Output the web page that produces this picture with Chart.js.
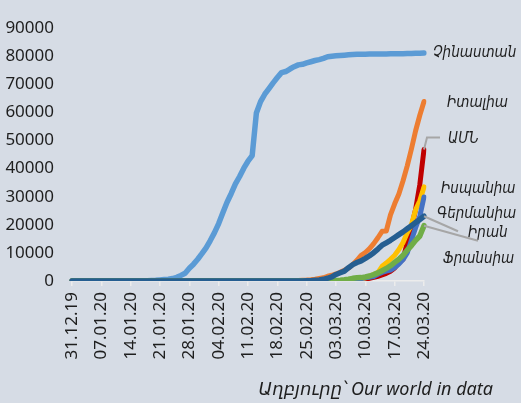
<!DOCTYPE html>
<html lang="hy">
<head>
<meta charset="utf-8">
<title>COVID-19</title>
<script src="https://cdn.jsdelivr.net/npm/chart.js@4/dist/chart.umd.min.js"></script>
<style>
  html, body { margin: 0; padding: 0; background: #d6dce5; }
  #wrap { width: 521px; height: 403px; }
</style>
</head>
<body>
<div id="wrap"><canvas id="cases" width="521" height="403"></canvas></div>
<script>
// Daily dates, 31.12.19 - 24.03.20
const dates = [
  "31.12.19",
  "01.01.20","02.01.20","03.01.20","04.01.20","05.01.20","06.01.20","07.01.20","08.01.20","09.01.20","10.01.20",
  "11.01.20","12.01.20","13.01.20","14.01.20","15.01.20","16.01.20","17.01.20","18.01.20","19.01.20","20.01.20",
  "21.01.20","22.01.20","23.01.20","24.01.20","25.01.20","26.01.20","27.01.20","28.01.20","29.01.20","30.01.20","31.01.20",
  "01.02.20","02.02.20","03.02.20","04.02.20","05.02.20","06.02.20","07.02.20","08.02.20","09.02.20","10.02.20",
  "11.02.20","12.02.20","13.02.20","14.02.20","15.02.20","16.02.20","17.02.20","18.02.20","19.02.20","20.02.20",
  "21.02.20","22.02.20","23.02.20","24.02.20","25.02.20","26.02.20","27.02.20","28.02.20","29.02.20",
  "01.03.20","02.03.20","03.03.20","04.03.20","05.03.20","06.03.20","07.03.20","08.03.20","09.03.20","10.03.20",
  "11.03.20","12.03.20","13.03.20","14.03.20","15.03.20","16.03.20","17.03.20","18.03.20","19.03.20","20.03.20",
  "21.03.20","22.03.20","23.03.20","24.03.20"
];

// Cumulative confirmed cases, one row per month (Dec 31 / Jan / Feb / Mar)
const china = [
  27,
  27,27,44,44,59,59,59,59,59,59, 59,59,59,59,59,59,59,80,216,235, 386,526,623,882,1323,1988,2775,4528,5994,7734, 9714,
  11809,14399,17211,20448,24320,28018,31161,34546,37198,40171, 42638,44653,59804,63851,66492,68500,70548,72436,74185,74576, 75465,76288,76936,77150,77658,78064,78497,78824,79251,
  79824,80026,80151,80270,80409,80552,80651,80695,80735,80754, 80778,80793,80813,80824,80844,80860,80881,80894,80928,80967, 81008,81054,81093,81171
];
const italy = [
  0,
  0,0,0,0,0,0,0,0,0,0, 0,0,0,0,0,0,0,0,0,0, 0,0,0,0,0,0,0,0,0,0, 2,
  2,2,2,2,2,2,3,3,3,3, 3,3,3,3,3,3,3,3,3,3, 20,79,157,229,323,470,655,889,1128,
  1694,2036,2502,3089,3858,4636,5883,7375,9172,10149, 11500,13300,15400,17700,17800,23500,27500,31000,35700,41000, 47000,53500,59000,63900
];
const usa = [
  0,
  0,0,0,0,0,0,0,0,0,0, 0,0,0,0,0,0,0,0,0,0, 1,1,1,2,2,5,5,5,5,6, 7,
  8,8,11,11,11,12,12,12,12,12, 13,13,15,15,15,15,15,15,15,15, 15,35,35,35,53,57,60,60,62,
  70,76,101,122,153,221,278,417,537,605, 959,1281,1663,2179,2726,3499,4632,6421,7786,13680, 19101,25493,34300,46800
];
const spain = [
  0,
  0,0,0,0,0,0,0,0,0,0, 0,0,0,0,0,0,0,0,0,0, 0,0,0,0,0,0,0,0,0,0, 0,
  1,1,1,1,1,1,1,1,1,2, 2,2,2,2,2,2,2,2,2,2, 2,2,2,2,2,2,15,17,32,
  45,84,114,151,198,282,374,430,589,1073, 1639,2277,3004,5232,6391,7753,9191,11178,13716,17147, 19980,25374,28572,33500
];
const germany = [
  0,
  0,0,0,0,0,0,0,0,0,0, 0,0,0,0,0,0,0,0,0,0, 0,0,0,0,0,0,0,4,4,4, 5,
  8,8,8,12,12,12,13,14,14,14, 14,14,16,16,16,16,16,16,16,16, 16,16,16,16,16,18,21,26,53,
  66,117,150,188,240,349,534,684,847,1112, 1296,1567,2369,3062,3500,3900,4800,6000,7600,10000, 14500,19000,23000,29900
];
const iran = [
  0,
  0,0,0,0,0,0,0,0,0,0, 0,0,0,0,0,0,0,0,0,0, 0,0,0,0,0,0,0,0,0,0, 0,
  0,0,0,0,0,0,0,0,0,0, 0,0,0,0,0,0,0,0,0,2, 5,18,28,43,61,95,245,388,593,
  978,1501,2336,2922,3513,4747,5823,6566,7161,8042, 9000,10075,11364,12729,13600,14500,15500,16500,17500,18600, 19700,20800,21900,23049
];
const france = [
  0,
  0,0,0,0,0,0,0,0,0,0, 0,0,0,0,0,0,0,0,0,0, 0,0,0,0,3,3,3,3,4,5, 6,
  6,6,6,6,6,6,6,11,11,11, 11,11,11,11,12,12,12,12,12,12, 12,12,12,12,12,18,38,57,100,
  130,191,212,285,423,613,949,1126,1209,1412, 1784,2281,2876,3661,4469,5423,6633,7730,9134,10995, 12612,14459,16018,19700
];

const yMax = 90000;
const yStep = 10000;
const tickEvery = 7;   // one date label per week
const sourceText = "Աղբյուրը՝ Our world in data";

const BG = "#d6dce5";
const TEXT = "#1e1e1e";
const LEADER = "#a6a6a6";
const LABEL_FONT = "italic 15px 'DejaVu Sans Condensed', 'DejaVu Sans', sans-serif";

// name, values, colour, line width, draw order (lower = on top)
const series = [
  { name: "Չինաստան", values: china,   color: "#5b9bd5", width: 5.5, order: 6 },
  { name: "Իտալիա",   values: italy,   color: "#ed7d31", width: 5,   order: 5 },
  { name: "ԱՄՆ",      values: usa,     color: "#c00000", width: 5,   order: 4 },
  { name: "Իսպանիա",  values: spain,   color: "#ffc000", width: 5,   order: 3 },
  { name: "Գերմանիա", values: germany, color: "#4472c4", width: 5,   order: 2 },
  { name: "Իրան",     values: iran,    color: "#255e91", width: 5.5, order: 0 },
  { name: "Ֆրանսիա",  values: france,  color: "#70ad47", width: 5.5, order: 1 }
];

// label offsets from each line's last point; leader = polyline offsets from that point
const endLabels = [
  { dx: 9,  dy: 0 },
  { dx: 23, dy: 2 },
  { dx: 24, dy: -10, leader: [[3, -12], [16, -12]] },
  { dx: 17, dy: 2 },
  { dx: 13, dy: 17 },
  { dx: 44, dy: 17, leader: [[34, 15]] },
  { dx: 19, dy: 33, leader: [[54, 15]] }
];

const background = {
  id: "background",
  beforeDraw(chart) {
    const ctx = chart.ctx;
    ctx.save();
    ctx.fillStyle = BG;
    ctx.fillRect(0, 0, chart.width, chart.height);
    ctx.restore();
  }
};

const lineEndLabels = {
  id: "lineEndLabels",
  afterDatasetsDraw(chart) {
    const ctx = chart.ctx;
    ctx.save();
    chart.data.datasets.forEach((ds, i) => {
      const meta = chart.getDatasetMeta(i);
      const last = meta.data[meta.data.length - 1];
      const conf = endLabels[i];
      if (!last || !conf) return;
      const x0 = last.x, y0 = last.y;
      if (conf.leader) {
        ctx.strokeStyle = LEADER;
        ctx.lineWidth = 2;
        ctx.beginPath();
        ctx.moveTo(x0, y0);
        conf.leader.forEach(([lx, ly]) => ctx.lineTo(x0 + lx, y0 + ly));
        ctx.stroke();
      }
      ctx.fillStyle = TEXT;
      ctx.font = LABEL_FONT;
      ctx.textAlign = "left";
      ctx.textBaseline = "middle";
      ctx.fillText(ds.label, x0 + conf.dx, y0 + conf.dy);
    });

    ctx.font = "italic 18px 'Noto Sans', 'DejaVu Sans', sans-serif";
    ctx.textAlign = "right";
    ctx.textBaseline = "alphabetic";
    ctx.fillStyle = TEXT;
    ctx.fillText(sourceText, 493, 395);
    ctx.restore();
  }
};

new Chart(document.getElementById("cases"), {
  type: "line",
  data: {
    labels: dates,
    datasets: series.map((s) => ({
      label: s.name,
      data: s.values,
      borderColor: s.color,
      backgroundColor: s.color,
      borderWidth: s.width,
      borderCapStyle: "round",
      borderJoinStyle: "round",
      pointRadius: 0,
      tension: 0,
      fill: false,
      order: s.order
    }))
  },
  options: {
    responsive: false,
    devicePixelRatio: 1,
    animation: false,
    layout: { padding: { top: 16, right: 97, bottom: 0, left: 0 } },
    plugins: {
      legend: { display: false },
      tooltip: { enabled: false }
    },
    scales: {
      x: {
        type: "category",
        offset: false,
        afterFit(scale) { scale.height = 122; },
        border: { display: true, color: "#ececec", width: 1.5 },
        grid: {
          display: true,
          drawOnChartArea: false,
          drawTicks: true,
          tickLength: 5,
          lineWidth: 1.5,
          color: (ctx) => (ctx.index % tickEvery === 0 ? "#ececec" : "rgba(0,0,0,0)")
        },
        ticks: {
          autoSkip: false,
          minRotation: 90,
          maxRotation: 90,
          padding: 6,
          color: TEXT,
          font: { family: "'Noto Sans', sans-serif", size: 17 },
          callback(value, index) {
            return index % tickEvery === 0 ? dates[index] : "";
          }
        }
      },
      y: {
        min: 0,
        max: yMax,
        afterFit(scale) { scale.width = 72; },
        border: { display: false },
        grid: { display: false, drawTicks: false },
        ticks: {
          stepSize: yStep,
          padding: 18,
          color: TEXT,
          font: { family: "'Noto Sans', sans-serif", size: 17 },
          callback: (value) => String(value)
        }
      }
    }
  },
  plugins: [background, lineEndLabels]
});
</script>
</body>
</html>
